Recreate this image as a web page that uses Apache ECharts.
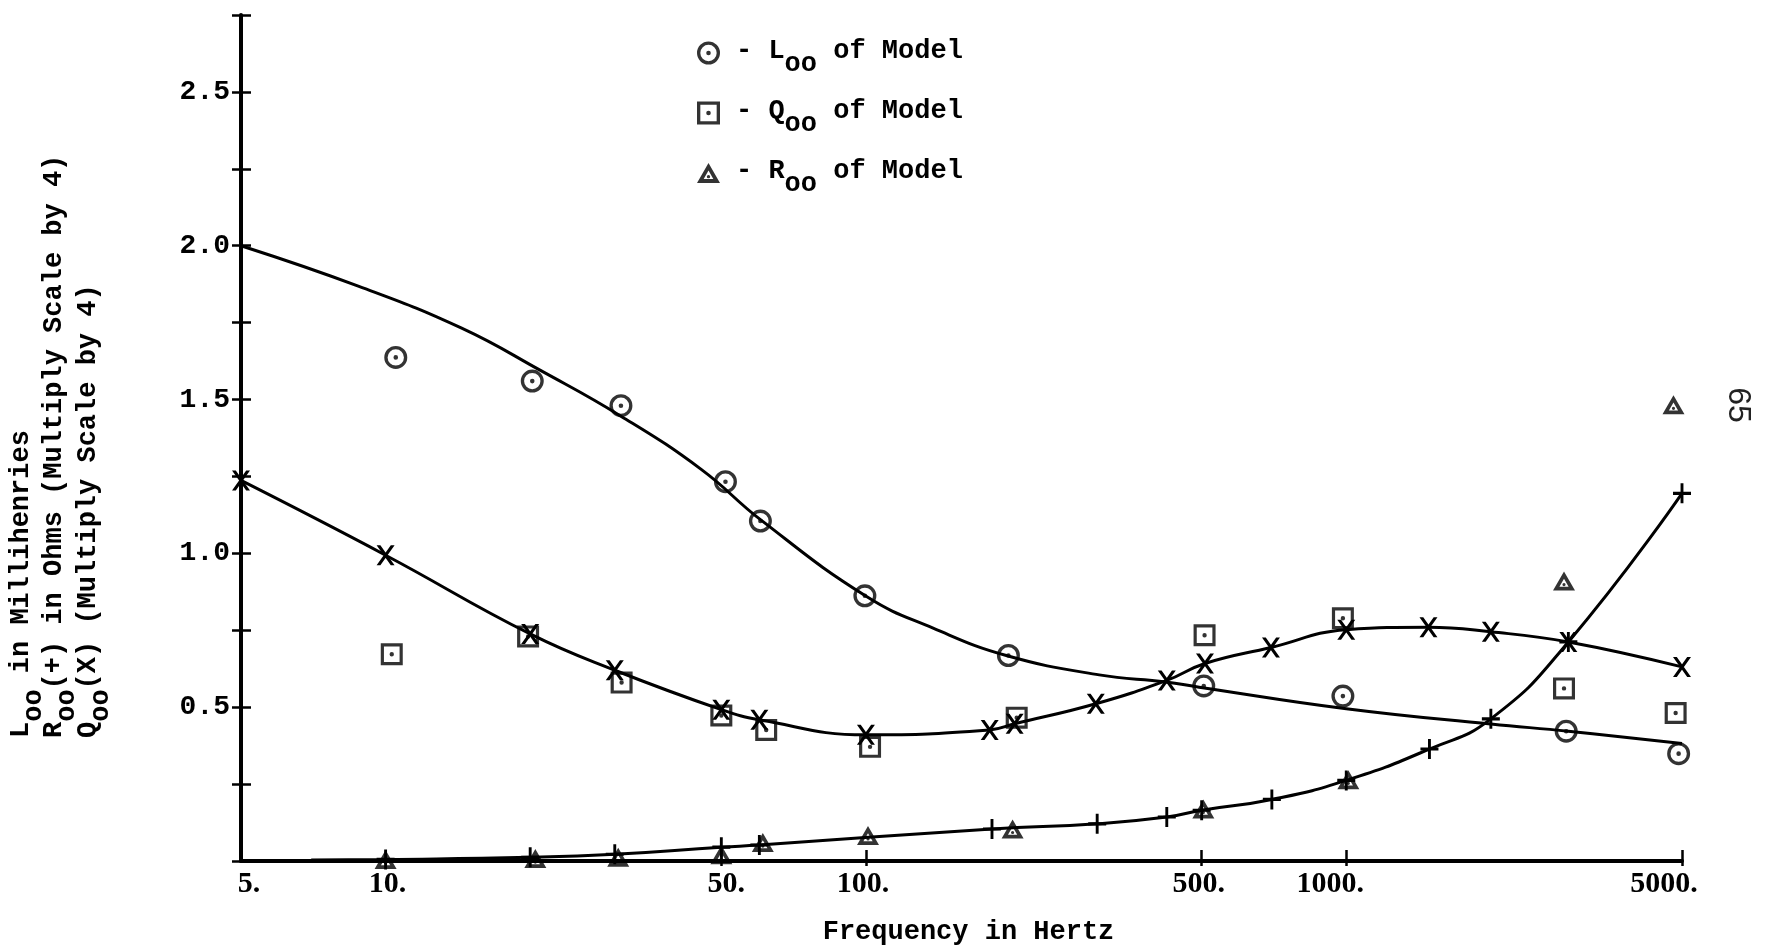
<!DOCTYPE html>
<html><head><meta charset="utf-8">
<script src="https://cdn.jsdelivr.net/npm/echarts@6/dist/echarts.min.js"></script>
<style>html,body{margin:0;padding:0;background:#fff}#c{width:1767px;height:951px}</style>
</head><body><div id="c"></div>
<script>
// ---------- data ----------
const xTickValues = [5, 10, 50, 100, 500, 1000, 5000];
const xCrossTickValues = [50, 100, 500, 1000, 5000];
const yLabelValues = [0.5, 1.0, 1.5, 2.0, 2.5];

// Smooth L_oo curve (line only)
const lCurveFreq = [5, 8.8, 14.4, 21.1, 30.9, 45.4, 60.5, 100.5, 138, 196, 306, 421, 494, 1000, 2000, 2900, 5000];
const lCurveVal  = [2.00, 1.868, 1.732, 1.593, 1.446, 1.273, 1.108, 0.859, 0.757, 0.668, 0.605, 0.582, 0.565, 0.495, 0.445, 0.422, 0.382];

// Q_oo measured (X marks, joined by curve)
const qMeasFreq = [5, 10, 20, 30, 50, 60, 100, 181, 204, 301, 423, 508, 697, 1000, 1483, 2000, 2900, 5000];
const qMeasVal  = [1.237, 0.994, 0.738, 0.62, 0.492, 0.459, 0.41, 0.426, 0.446, 0.511, 0.587, 0.642, 0.694, 0.752, 0.76, 0.745, 0.712, 0.631];

// R_oo measured (+ marks, joined by curve); first point is the curve start
const rMeasFreq = [7, 10, 20, 30, 50, 60, 183, 303, 423, 500, 700, 1000, 1490, 2000, 2900, 5000];
const rMeasVal  = [0.003, 0.005, 0.012, 0.022, 0.045, 0.052, 0.104, 0.121, 0.143, 0.165, 0.20, 0.262, 0.364, 0.462, 0.712, 1.195];

// Model points
const lModelFreq = [10.5, 20.2, 30.9, 51, 60.3, 99.5, 198, 505, 984, 2870, 4920];
const lModelVal  = [1.637, 1.56, 1.48, 1.233, 1.105, 0.862, 0.668, 0.569, 0.536, 0.422, 0.349];
const qModelFreq = [10.3, 19.8, 31, 50, 62, 102, 206, 507, 984, 2840, 4850];
const qModelVal  = [0.672, 0.73, 0.58, 0.473, 0.426, 0.371, 0.466, 0.734, 0.789, 0.561, 0.481];
const rModelFreq = [10, 20.5, 30.5, 50, 61, 101, 202, 504, 1010, 2840, 4800];
const rModelVal  = [0.005, 0.008, 0.012, 0.02, 0.06, 0.083, 0.104, 0.169, 0.264, 0.91, 1.483];

// ---------- styling ----------
const INK = '#000';
const MONO = "'Liberation Mono', 'DejaVu Sans Mono', monospace";
const SERIF = "'Liberation Serif', 'DejaVu Serif', serif";

const SYM_CIRCLE = 'path://M10,0A10,10,0,1,1,-10,0A10,10,0,1,1,10,0ZM7.1,0A7.1,7.1,0,1,0,-7.1,0A7.1,7.1,0,1,0,7.1,0ZM2,0A2,2,0,1,1,-2,0A2,2,0,1,1,2,0Z';
const SYM_SQUARE = 'path://M-10,-10L10,-10L10,10L-10,10ZM-7.1,-7.1L-7.1,7.1L7.1,7.1L7.1,-7.1ZM2,0A2,2,0,1,1,-2,0A2,2,0,1,1,2,0Z';
const SYM_TRI = 'path://M0,-10L11,9L-11,9ZM0,-2.8L-4.6,5.3L4.6,5.3ZM1.6,3A1.6,1.6,0,1,1,-1.6,3A1.6,1.6,0,1,1,1.6,3Z';
const SYM_X = 'path://M-9,-10L-5.2,-10L9,10L5.2,10ZM5.2,-10L9,-10L-5.2,10L-9,10Z';
const SYM_PLUS = 'path://M-1.6,-10L1.6,-10L1.6,-1.6L10,-1.6L10,1.6L1.6,1.6L1.6,10L-1.6,10L-1.6,1.6L-10,1.6L-10,-1.6L-1.6,-1.6Z';

const zip = (xs, ys) => xs.map((x, i) => [x, ys[i]]);

const FS = 27;
const richBase = { fontFamily: MONO, fontWeight: 'bold', fontSize: FS, color: INK, lineHeight: 30, verticalAlign: 'top' };
const richSub = Object.assign({}, richBase, { padding: [13, 0, 0, 0] });
const richFirst = Object.assign({}, richBase, { padding: [0, 0, 0, 11] });

// typed x labels sit slightly off their ticks (horizontal nudge, px)
const xLabelNudge = [8, 2, 5, -3, -3, -16, -18];
const xLabelRich = {};
xLabelNudge.forEach((d, i) => {
  xLabelRich['n' + i] = { fontFamily: SERIF, fontWeight: 'bold', fontSize: 30, color: INK,
    padding: d >= 0 ? [0, 0, 0, 2 * d] : [0, -2 * d, 0, 0] };
});

const chart = echarts.init(document.getElementById('c'), null, { renderer: 'canvas' });

const yAxisBase = { type: 'value', min: 0, max: 2.75, interval: 0.25, position: 'left', splitLine: { show: false } };
const xAxisBase = { type: 'log', logBase: 10, min: 5, max: 5000, position: 'bottom', splitLine: { show: false }, minorTick: { show: false } };
const axisLineStyle = { show: true, lineStyle: { color: INK, width: 4 } };

const option = {
  animation: false,
  backgroundColor: '#fff',
  grid: { left: 241, right: 85, top: 15, bottom: 90, containLabel: false },
  legend: {
    orient: 'vertical', left: 692, top: 33,
    itemWidth: 23, itemHeight: 23, itemGap: 20, itemTextGap: 10,
    selectedMode: false,
    data: ['L_oo of Model', 'Q_oo of Model', 'R_oo of Model'],
    formatter: name => '{f|- ' + name[0] + '}{s|oo}{b| of Model}',
    textStyle: { fontFamily: MONO, fontWeight: 'bold', fontSize: FS, color: INK, rich: { f: richFirst, b: richBase, s: richSub } }
  },
  xAxis: [Object.assign({}, xAxisBase, {
    // ticks/labels axis, shifted up so its ticks cross the axis line
    offset: -11,
    name: 'Frequency in Hertz', nameLocation: 'middle', nameGap: 69,
    nameTextStyle: { fontFamily: MONO, fontWeight: 'bold', fontSize: FS, color: INK, padding: [0, 0, 0, 14] },
    axisLine: { show: false },
    axisTick: { show: true, inside: false, length: 16, lineStyle: { color: INK, width: 2.5 }, customValues: xCrossTickValues },
    axisLabel: { show: true, customValues: xTickValues, margin: 19, fontFamily: SERIF, fontWeight: 'bold', fontSize: 30, color: INK,
      formatter: v => '{n' + xTickValues.indexOf(v) + '|' + v + '.}', rich: xLabelRich }
  }), Object.assign({}, xAxisBase, {
    axisLine: axisLineStyle,
    axisTick: { show: false },
    axisLabel: { show: false }
  })],
  yAxis: [Object.assign({}, yAxisBase, {
    // ticks/labels axis, shifted right so its ticks cross the axis line
    offset: -10,
    axisLine: { show: false },
    axisTick: { show: true, inside: false, length: 19, lineStyle: { color: INK, width: 2.5 } },
    axisLabel: { show: true, customValues: yLabelValues, formatter: v => v.toFixed(1), fontFamily: MONO, fontWeight: 'bold', fontSize: 28, color: INK, margin: 21 }
  }), Object.assign({}, yAxisBase, {
    axisLine: axisLineStyle,
    axisTick: { show: false },
    axisLabel: { show: false }
  })],
  graphic: [
    { type: 'text', x: 8, y: 738, rotation: Math.PI / 2,
      style: { text: '{b|L}{s|oo}{b| in Millihenries}', rich: { b: richBase, s: richSub }, align: 'left', verticalAlign: 'top', fill: INK } },
    { type: 'text', x: 41, y: 738, rotation: Math.PI / 2,
      style: { text: '{b|R}{s|oo}{b|(+) in Ohms (Multiply Scale by 4)}', rich: { b: richBase, s: richSub }, align: 'left', verticalAlign: 'top', fill: INK } },
    { type: 'text', x: 75, y: 738, rotation: Math.PI / 2,
      style: { text: '{b|Q}{s|oo}{b|(X) (Multiply Scale by 4)}', rich: { b: richBase, s: richSub }, align: 'left', verticalAlign: 'top', fill: INK } },
    { type: 'text', x: 1738, y: 405, rotation: -Math.PI / 2,
      style: { text: '65', font: "32px 'Liberation Sans', sans-serif", fill: '#222', align: 'center', verticalAlign: 'middle' } }
  ],
  series: [
    { name: 'L curve', type: 'line', smooth: 0.45, showSymbol: false, symbol: 'none',
      lineStyle: { color: INK, width: 3 }, data: zip(lCurveFreq, lCurveVal), z: 2 },
    { name: 'Q measured', type: 'line', smooth: 0.45, symbol: SYM_X, symbolSize: [18, 20],
      itemStyle: { color: INK }, lineStyle: { color: INK, width: 3 }, data: zip(qMeasFreq, qMeasVal), z: 3 },
    { name: 'R measured', type: 'line', smooth: 0.5, symbol: SYM_PLUS, symbolSize: [18, 20],
      itemStyle: { color: INK }, lineStyle: { color: INK, width: 3 },
      data: rMeasFreq.map((f, i) => i === 0 ? { value: [f, rMeasVal[i]], symbol: 'none' } : [f, rMeasVal[i]]), z: 3 },
    { name: 'L_oo of Model', type: 'scatter', symbol: SYM_CIRCLE, symbolSize: 23,
      itemStyle: { color: INK }, data: zip(lModelFreq, lModelVal), z: 4 },
    { name: 'Q_oo of Model', type: 'scatter', symbol: SYM_SQUARE, symbolSize: 22,
      itemStyle: { color: INK }, data: zip(qModelFreq, qModelVal), z: 4 },
    { name: 'R_oo of Model', type: 'scatter', symbol: SYM_TRI, symbolSize: [22, 19],
      itemStyle: { color: INK }, data: zip(rModelFreq, rModelVal), z: 4 }
  ]
};
chart.setOption(option);
</script></body></html>
